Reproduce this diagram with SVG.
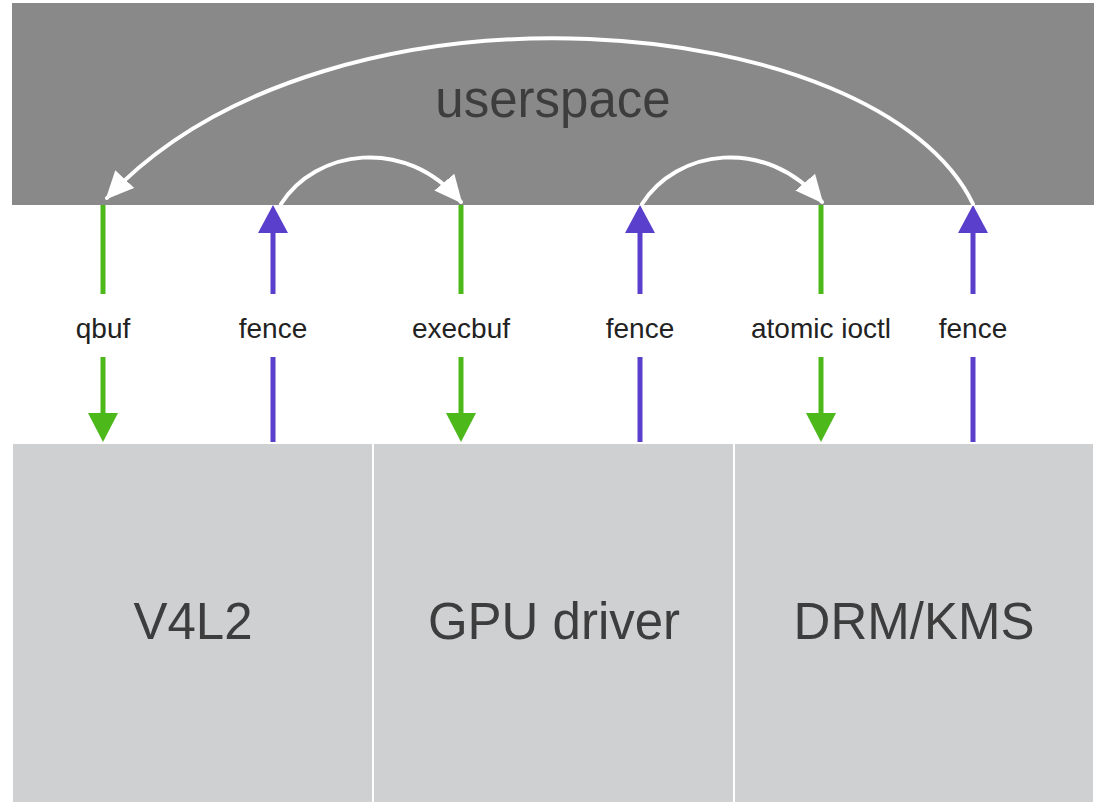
<svg xmlns="http://www.w3.org/2000/svg" width="1102" height="802" viewBox="0 0 1102 802">
  <style>
    .big { font-family: "Liberation Sans", Arial, sans-serif; font-size: 51px; fill: #3d3d3d; text-anchor: middle; }
    .lbl { font-family: "Liberation Sans", Arial, sans-serif; font-size: 28px; fill: #222222; text-anchor: middle; }
    .green { stroke: #4cb81a; stroke-width: 5; fill: none; }
    .purple { stroke: #5a3fcc; stroke-width: 5; fill: none; }
    .flow { stroke: #ffffff; stroke-width: 4; fill: none; stroke-linecap: round; }
    .kernel { fill: #cfd0d2; }
  </style>
  <defs>
    <marker id="headWhite" markerUnits="userSpaceOnUse" markerWidth="30" markerHeight="28" refX="26" refY="13" orient="auto">
      <path d="M0,0 L28,13 L0,26 z" fill="#ffffff"/>
    </marker>
    <marker id="headGreen" markerUnits="userSpaceOnUse" markerWidth="30" markerHeight="30" refX="0" refY="15" orient="auto">
      <path d="M0,0 L29,15 L0,30 z" fill="#4cb81a"/>
    </marker>
    <marker id="headPurple" markerUnits="userSpaceOnUse" markerWidth="30" markerHeight="30" refX="0" refY="15" orient="auto">
      <path d="M0,0 L28,15 L0,30 z" fill="#5a3fcc"/>
    </marker>
  </defs>

  <rect width="1102" height="802" fill="#ffffff"/>

  <!-- userspace band -->
  <g id="userspace">
    <rect x="12" y="3" width="1082" height="202" fill="#898989"/>
    <text class="big" x="553" y="117">userspace</text>
  </g>

  <!-- kernel subsystems -->
  <g id="v4l2">
    <rect class="kernel" x="13" y="444" width="359" height="358"/>
    <text class="big" x="193" y="639">V4L2</text>
  </g>
  <g id="gpu-driver">
    <rect class="kernel" x="374" y="444" width="359" height="358"/>
    <text class="big" x="554" y="639">GPU driver</text>
  </g>
  <g id="drm-kms">
    <rect class="kernel" x="735" y="444" width="358" height="358"/>
    <text class="big" x="914" y="639">DRM/KMS</text>
  </g>

  <!-- connectors -->
  <g id="connectors">
    <!-- calls from userspace into the kernel -->
    <line class="green" x1="103" y1="205" x2="103" y2="294"/>
    <line class="green" x1="103" y1="357" x2="103" y2="413" marker-end="url(#headGreen)"/>
    <line class="green" x1="461" y1="205" x2="461" y2="294"/>
    <line class="green" x1="461" y1="357" x2="461" y2="413" marker-end="url(#headGreen)"/>
    <line class="green" x1="821" y1="205" x2="821" y2="294"/>
    <line class="green" x1="821" y1="357" x2="821" y2="413" marker-end="url(#headGreen)"/>

    <!-- fences returned to userspace -->
    <line class="purple" x1="273" y1="442" x2="273" y2="357"/>
    <line class="purple" x1="273" y1="294" x2="273" y2="233" marker-end="url(#headPurple)"/>
    <line class="purple" x1="640" y1="442" x2="640" y2="357"/>
    <line class="purple" x1="640" y1="294" x2="640" y2="233" marker-end="url(#headPurple)"/>
    <line class="purple" x1="973" y1="442" x2="973" y2="357"/>
    <line class="purple" x1="973" y1="294" x2="973" y2="233" marker-end="url(#headPurple)"/>

    <!-- fence hand-over inside userspace -->
    <path class="flow" d="M281,204 C315,150 405,135 461,202" marker-end="url(#headWhite)"/>
    <path class="flow" d="M642,204 C676,150 765,135 822,202" marker-end="url(#headWhite)"/>
    <path class="flow" d="M973,204 C880,10 330,-40 107,198" marker-end="url(#headWhite)"/>

    <!-- labels -->
    <text class="lbl" x="103" y="338">qbuf</text>
    <text class="lbl" x="273" y="338">fence</text>
    <text class="lbl" x="461" y="338">execbuf</text>
    <text class="lbl" x="640" y="338">fence</text>
    <text class="lbl" x="821" y="338">atomic ioctl</text>
    <text class="lbl" x="973" y="338">fence</text>
  </g>
</svg>
